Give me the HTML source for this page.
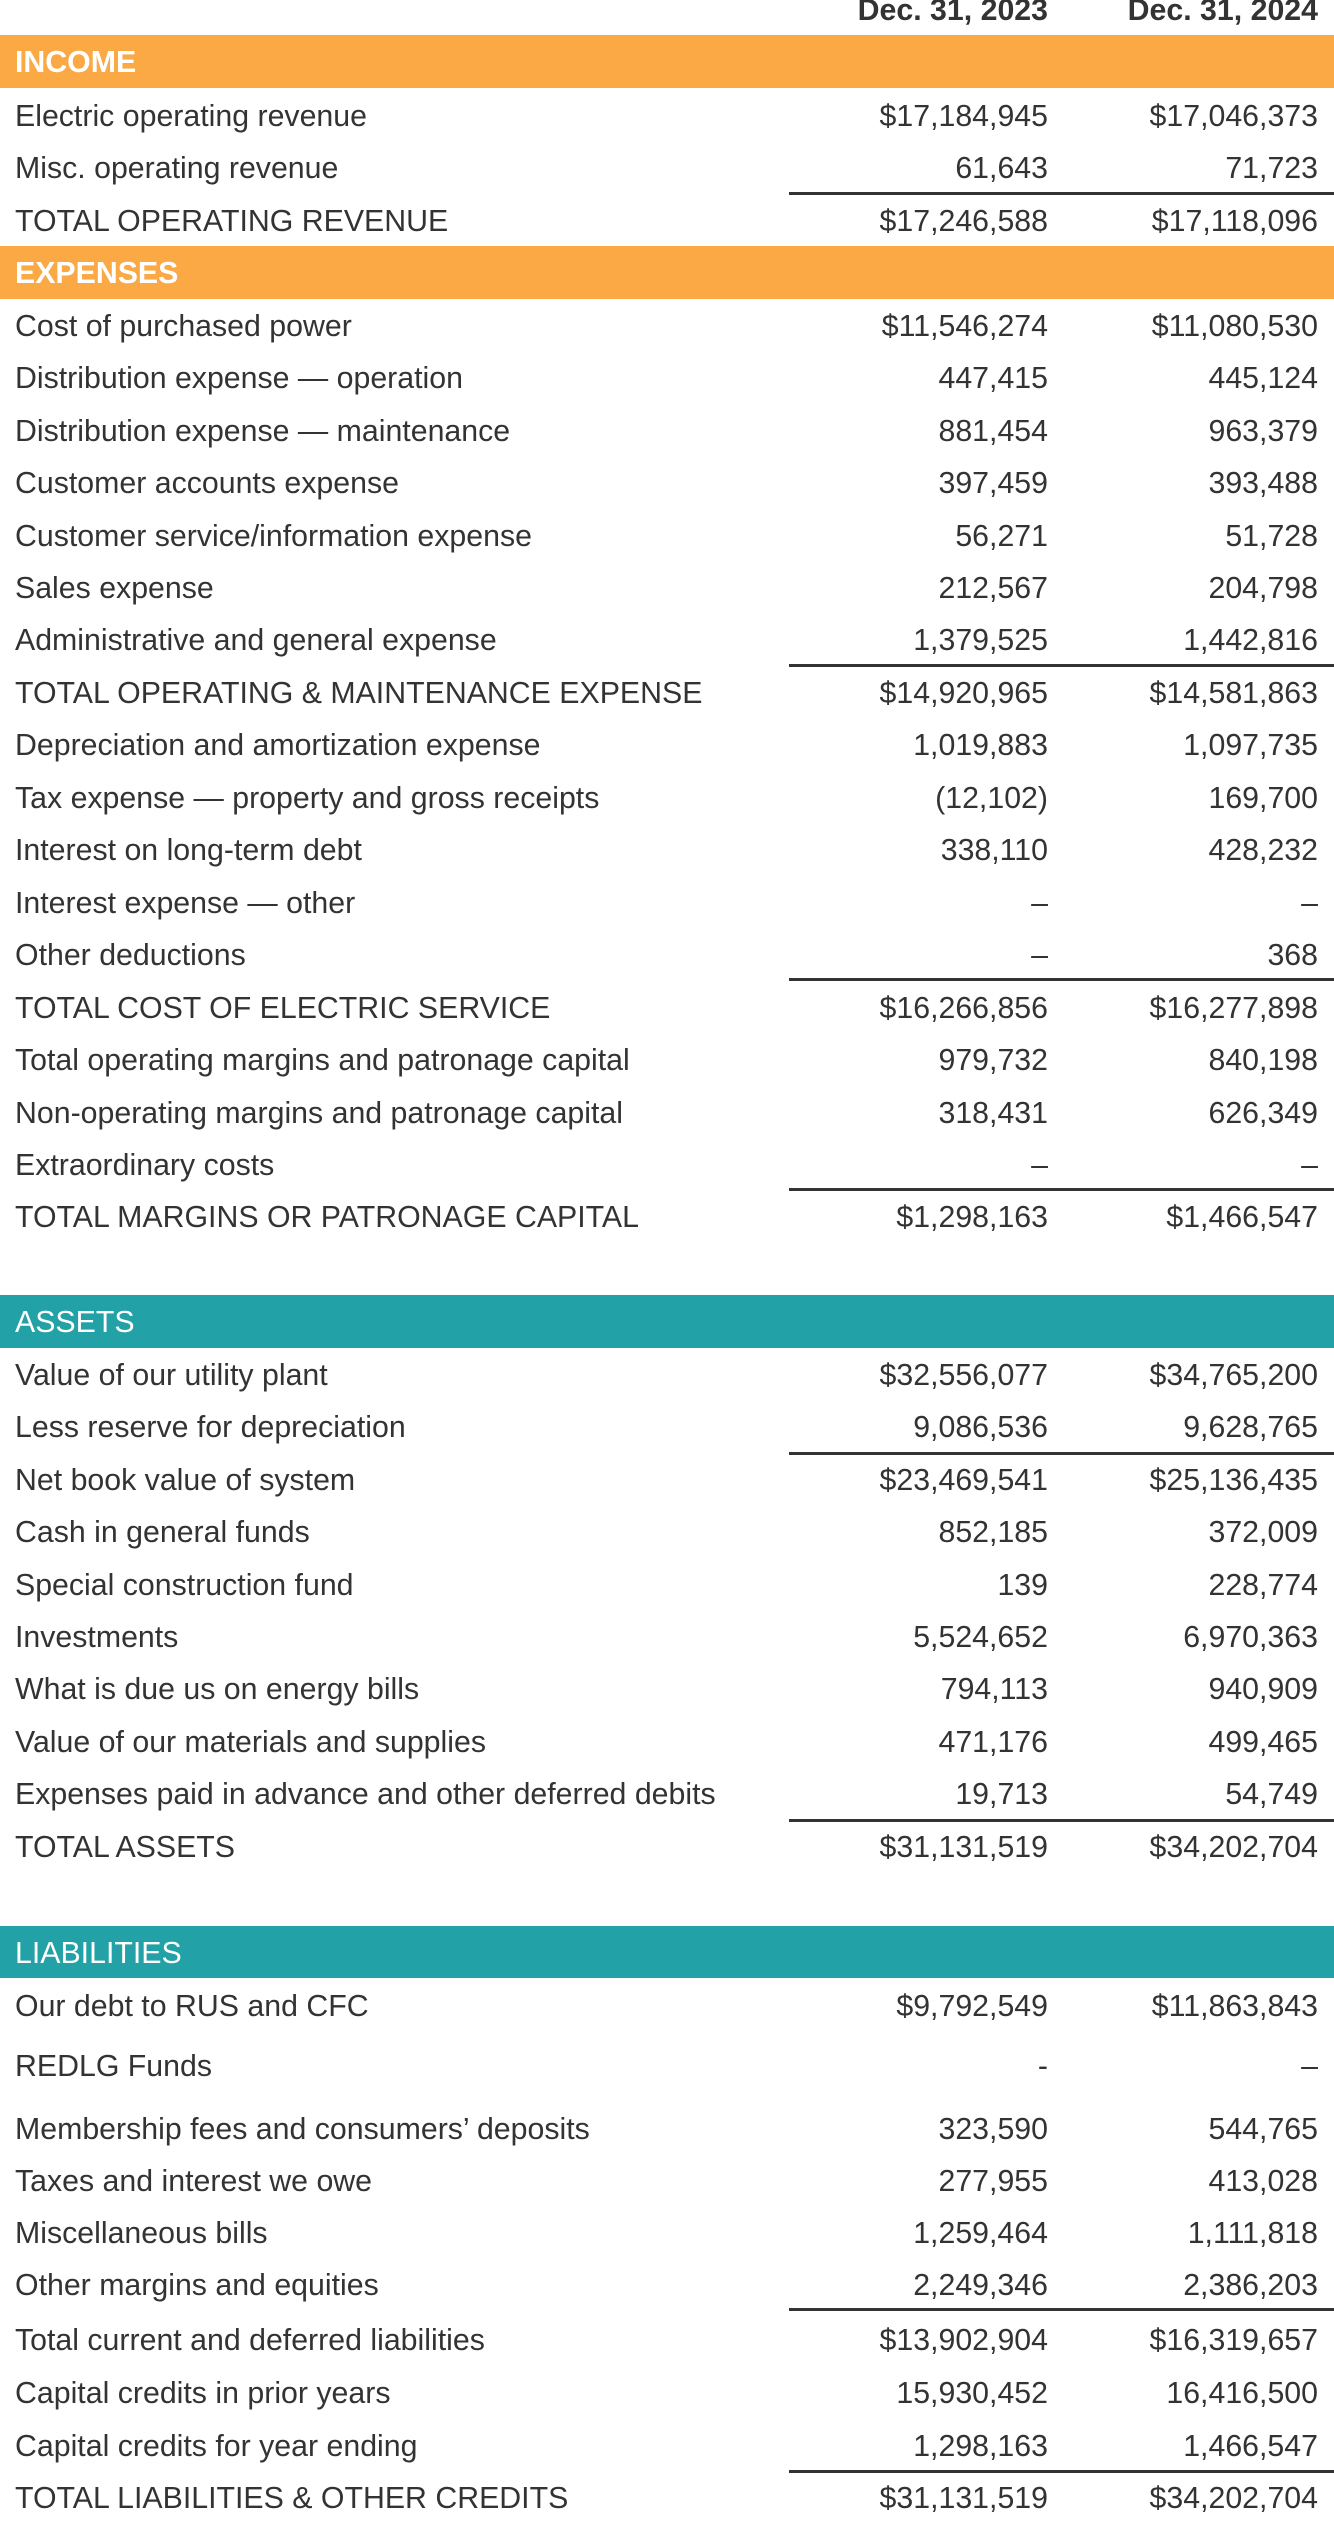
<!DOCTYPE html>
<html><head><meta charset="utf-8"><style>
html,body{margin:0;padding:0;background:#fff;}
body{width:1334px;height:2512px;position:relative;overflow:hidden;font-family:"Liberation Sans",Arial,sans-serif;font-size:30.3px;color:#333;}
.r{position:absolute;left:0;width:1334px;height:52px;line-height:52px;margin-top:2px;}
.r .l{position:absolute;left:15px;white-space:nowrap;}
.r .a{position:absolute;right:286px;white-space:nowrap;}
.r .b{position:absolute;right:16px;white-space:nowrap;}
.band{position:absolute;left:0;width:1334px;height:53px;line-height:55px;color:#fff;}
.band span{position:absolute;left:15px;}
.o{background:#fba945;font-weight:bold;}
.t{background:#22a2a7;}
.ln{position:absolute;left:789px;width:545px;height:3px;background:#333;}
.h{position:absolute;top:-4px;line-height:30px;font-weight:bold;}
</style></head><body>
<div class="h" style="right:286px">Dec. 31, 2023</div>
<div class="h" style="right:16px">Dec. 31, 2024</div>

<div class="band o" style="top:35px"><span>INCOME</span></div>
<div class="r" style="top:89px"><span class="l">Electric operating revenue</span><span class="a">$17,184,945</span><span class="b">$17,046,373</span></div>
<div class="r" style="top:141px"><span class="l">Misc. operating revenue</span><span class="a">61,643</span><span class="b">71,723</span></div>
<div class="ln" style="top:192px"></div>
<div class="r" style="top:194px"><span class="l">TOTAL OPERATING REVENUE</span><span class="a">$17,246,588</span><span class="b">$17,118,096</span></div>

<div class="band o" style="top:246px"><span>EXPENSES</span></div>
<div class="r" style="top:299px"><span class="l">Cost of purchased power</span><span class="a">$11,546,274</span><span class="b">$11,080,530</span></div>
<div class="r" style="top:351px"><span class="l">Distribution expense — operation</span><span class="a">447,415</span><span class="b">445,124</span></div>
<div class="r" style="top:404px"><span class="l">Distribution expense — maintenance</span><span class="a">881,454</span><span class="b">963,379</span></div>
<div class="r" style="top:456px"><span class="l">Customer accounts expense</span><span class="a">397,459</span><span class="b">393,488</span></div>
<div class="r" style="top:509px"><span class="l">Customer service/information expense</span><span class="a">56,271</span><span class="b">51,728</span></div>
<div class="r" style="top:561px"><span class="l">Sales expense</span><span class="a">212,567</span><span class="b">204,798</span></div>
<div class="r" style="top:613px"><span class="l">Administrative and general expense</span><span class="a">1,379,525</span><span class="b">1,442,816</span></div>
<div class="ln" style="top:664px"></div>
<div class="r" style="top:666px"><span class="l">TOTAL OPERATING &amp; MAINTENANCE EXPENSE</span><span class="a">$14,920,965</span><span class="b">$14,581,863</span></div>
<div class="r" style="top:718px"><span class="l">Depreciation and amortization expense</span><span class="a">1,019,883</span><span class="b">1,097,735</span></div>
<div class="r" style="top:771px"><span class="l">Tax expense — property and gross receipts</span><span class="a">(12,102)</span><span class="b">169,700</span></div>
<div class="r" style="top:823px"><span class="l">Interest on long-term debt</span><span class="a">338,110</span><span class="b">428,232</span></div>
<div class="r" style="top:876px"><span class="l">Interest expense — other</span><span class="a">–</span><span class="b">–</span></div>
<div class="r" style="top:928px"><span class="l">Other deductions</span><span class="a">–</span><span class="b">368</span></div>
<div class="ln" style="top:978px"></div>
<div class="r" style="top:981px"><span class="l">TOTAL COST OF ELECTRIC SERVICE</span><span class="a">$16,266,856</span><span class="b">$16,277,898</span></div>
<div class="r" style="top:1033px"><span class="l">Total operating margins and patronage capital</span><span class="a">979,732</span><span class="b">840,198</span></div>
<div class="r" style="top:1086px"><span class="l">Non-operating margins and patronage capital</span><span class="a">318,431</span><span class="b">626,349</span></div>
<div class="r" style="top:1138px"><span class="l">Extraordinary costs</span><span class="a">–</span><span class="b">–</span></div>
<div class="ln" style="top:1188px"></div>
<div class="r" style="top:1190px"><span class="l">TOTAL MARGINS OR PATRONAGE CAPITAL</span><span class="a">$1,298,163</span><span class="b">$1,466,547</span></div>

<div class="band t" style="top:1295px"><span>ASSETS</span></div>
<div class="r" style="top:1348px"><span class="l">Value of our utility plant</span><span class="a">$32,556,077</span><span class="b">$34,765,200</span></div>
<div class="r" style="top:1400px"><span class="l">Less reserve for depreciation</span><span class="a">9,086,536</span><span class="b">9,628,765</span></div>
<div class="ln" style="top:1452px"></div>
<div class="r" style="top:1453px"><span class="l">Net book value of system</span><span class="a">$23,469,541</span><span class="b">$25,136,435</span></div>
<div class="r" style="top:1505px"><span class="l">Cash in general funds</span><span class="a">852,185</span><span class="b">372,009</span></div>
<div class="r" style="top:1558px"><span class="l">Special construction fund</span><span class="a">139</span><span class="b">228,774</span></div>
<div class="r" style="top:1610px"><span class="l">Investments</span><span class="a">5,524,652</span><span class="b">6,970,363</span></div>
<div class="r" style="top:1662px"><span class="l">What is due us on energy bills</span><span class="a">794,113</span><span class="b">940,909</span></div>
<div class="r" style="top:1715px"><span class="l">Value of our materials and supplies</span><span class="a">471,176</span><span class="b">499,465</span></div>
<div class="r" style="top:1767px"><span class="l">Expenses paid in advance and other deferred debits</span><span class="a">19,713</span><span class="b">54,749</span></div>
<div class="ln" style="top:1819px"></div>
<div class="r" style="top:1820px"><span class="l">TOTAL ASSETS</span><span class="a">$31,131,519</span><span class="b">$34,202,704</span></div>

<div class="band t" style="top:1926px;height:52px"><span>LIABILITIES</span></div>
<div class="r" style="top:1979px"><span class="l">Our debt to RUS and CFC</span><span class="a">$9,792,549</span><span class="b">$11,863,843</span></div>
<div class="r" style="top:2039px"><span class="l">REDLG Funds</span><span class="a">-</span><span class="b">–</span></div>
<div class="r" style="top:2102px"><span class="l">Membership fees and consumers’ deposits</span><span class="a">323,590</span><span class="b">544,765</span></div>
<div class="r" style="top:2154px"><span class="l">Taxes and interest we owe</span><span class="a">277,955</span><span class="b">413,028</span></div>
<div class="r" style="top:2206px"><span class="l">Miscellaneous bills</span><span class="a">1,259,464</span><span class="b">1,111,818</span></div>
<div class="r" style="top:2258px"><span class="l">Other margins and equities</span><span class="a">2,249,346</span><span class="b">2,386,203</span></div>
<div class="ln" style="top:2308px"></div>
<div class="r" style="top:2313px"><span class="l">Total current and deferred liabilities</span><span class="a">$13,902,904</span><span class="b">$16,319,657</span></div>
<div class="r" style="top:2366px"><span class="l">Capital credits in prior years</span><span class="a">15,930,452</span><span class="b">16,416,500</span></div>
<div class="r" style="top:2419px"><span class="l">Capital credits for year ending</span><span class="a">1,298,163</span><span class="b">1,466,547</span></div>
<div class="ln" style="top:2470px"></div>
<div class="r" style="top:2471px"><span class="l">TOTAL LIABILITIES &amp; OTHER CREDITS</span><span class="a">$31,131,519</span><span class="b">$34,202,704</span></div>
</body></html>
